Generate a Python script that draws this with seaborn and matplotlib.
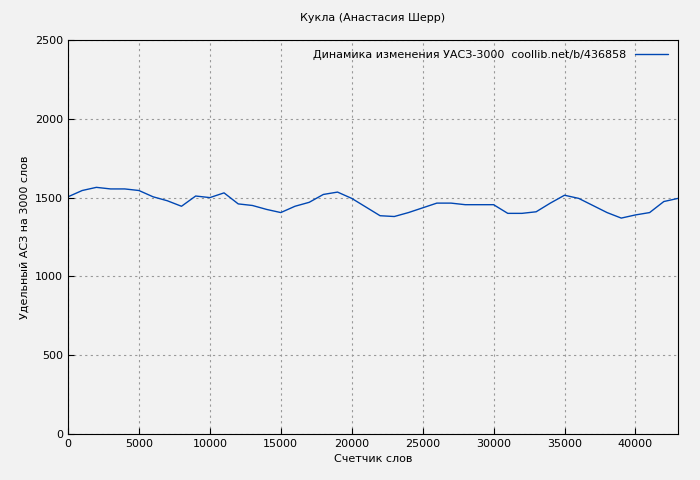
import matplotlib
matplotlib.use("Agg")
import matplotlib.pyplot as plt
import seaborn as sns
import pandas as pd

words = list(range(0, 44000, 1000))
values = [1505,1545,1565,1555,1555,1545,1505,1480,1445,1510,1500,1530,1460,1450,1425,1405,
          1445,1470,1520,1535,1495,1440,1385,1380,1405,1435,1465,1465,1455,1455,1455,1400,
          1400,1410,1465,1515,1495,1450,1405,1370,1390,1405,1475,1495]
xticks = list(range(0, 45000, 5000))
yticks = [0, 500, 1000, 1500, 2000, 2500]

sns.set_style("white")
plt.rcParams['font.family'] = ['DejaVu Sans']
plt.rcParams['text.color'] = 'black'
plt.rcParams['axes.labelcolor'] = 'black'
plt.rcParams['xtick.color'] = 'black'
plt.rcParams['ytick.color'] = 'black'
fig = plt.figure(figsize=(7, 4.8), dpi=100, facecolor='#f2f2f2')
ax = fig.add_axes([68/700, 46/480, 610/700, 394/480])
ax.set_facecolor('#f2f2f2')
df = pd.DataFrame({'x': words, 'y': values})
sns.lineplot(data=df, x='x', y='y', ax=ax, color='#0047b3', linewidth=1,
             label='Динамика изменения УАСЗ-3000  coollib.net/b/436858')
ax.set_xlim(0, 43000)
ax.set_ylim(0, 2500)
ax.set_xticks(xticks)
ax.set_yticks(yticks)
ax.tick_params(labelsize=8, length=4, direction='in', left=True, bottom=True)
ax.grid(True, color='#999999', linestyle=(0, (2, 3)), linewidth=0.8)
for s in ax.spines.values():
    s.set_color('black')
ax.set_xlabel('Счетчик слов', fontsize=8)
ax.set_ylabel('Удельный АСЗ на 3000 слов', fontsize=8)
ax.set_title('Кукла (Анастасия Шерр)', fontsize=8, pad=14)
leg = ax.legend(loc='upper right', fontsize=8, frameon=False, markerfirst=False, handlelength=3)
fig.savefig('out.png', dpi=100, facecolor=fig.get_facecolor())
